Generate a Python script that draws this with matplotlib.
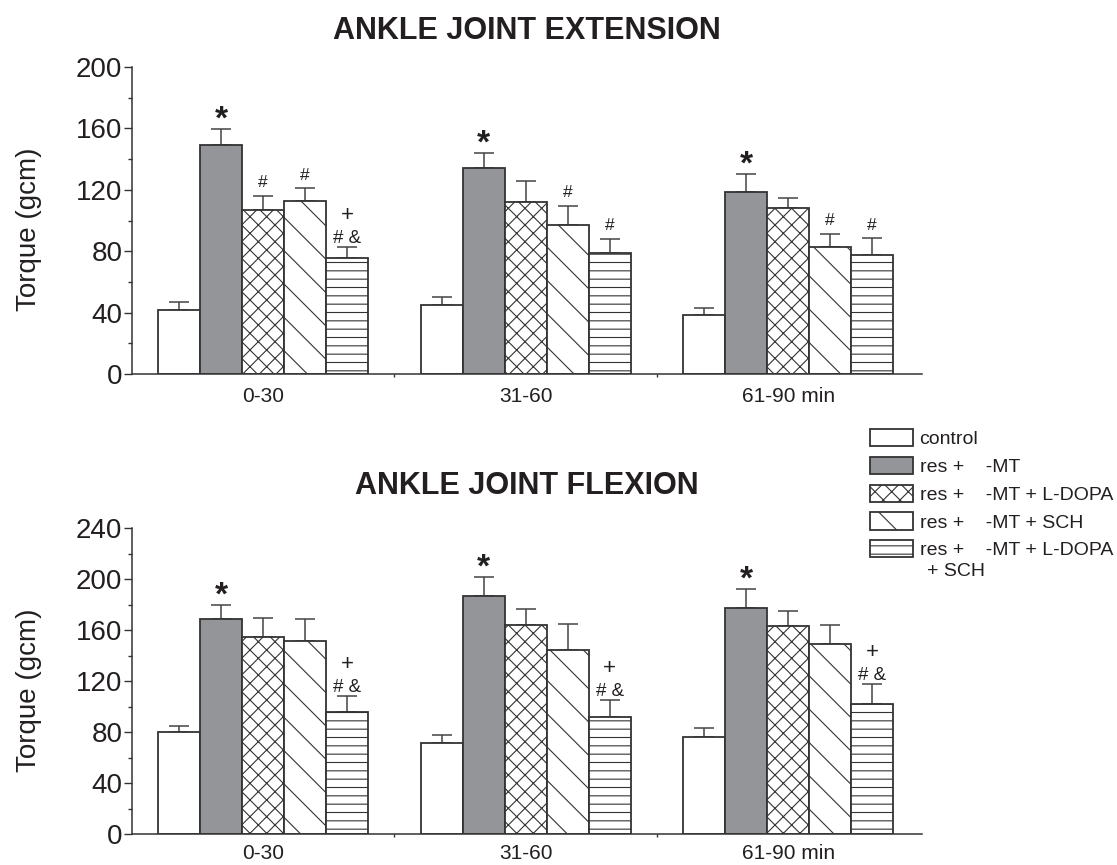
import numpy as np
import matplotlib
matplotlib.use("Agg")
import matplotlib.pyplot as plt
from matplotlib.patches import Patch
from matplotlib.ticker import MultipleLocator

plt.rcParams['font.family'] = ['Liberation Sans', 'DejaVu Sans']
plt.rcParams['hatch.linewidth'] = 0.8

# ---------------- data ----------------
groups = ["0-30", "31-60", "61-90 min"]
series = ["control", "res +    -MT", "res +    -MT + L-DOPA",
          "res +    -MT + SCH", "res +    -MT + L-DOPA"]
legend_extra = "+ SCH"

ext_title = "ANKLE JOINT EXTENSION"
ext_mean = [
    [42.0, 45.0, 38.4],     # control
    [149.0, 134.0, 118.6],  # res + MT
    [106.6, 111.8, 108.0],  # + L-DOPA
    [112.9, 96.9, 83.0],    # + SCH
    [75.3, 78.6, 77.5],     # + L-DOPA + SCH
]
ext_sem = [
    [4.7, 5.0, 4.5],
    [10.8, 10.0, 12.0],
    [9.4, 14.2, 6.4],
    [8.1, 12.8, 8.4],
    [7.7, 9.4, 10.9],
]
ext_marks = [
    ["", "", ""],
    ["*", "*", "*"],
    ["#", "", ""],
    ["#", "#", "#"],
    ["+\n# &", "#", "#"],
]

flex_title = "ANKLE JOINT FLEXION"
flex_mean = [
    [80.2, 71.6, 75.8],
    [169.0, 187.0, 177.5],
    [154.8, 164.0, 163.0],
    [151.6, 144.0, 149.0],
    [95.4, 91.5, 102.0],
]
flex_sem = [
    [4.8, 6.0, 7.6],
    [10.6, 14.6, 14.9],
    [14.9, 12.7, 12.0],
    [17.4, 20.4, 15.0],
    [13.1, 13.5, 16.0],
]
flex_marks = [
    ["", "", ""],
    ["*", "*", "*"],
    ["", "", ""],
    ["", "", ""],
    ["+\n# &", "+\n# &", "+\n# &"],
]

# ---------------- styles ----------------
ink = '#231f20'
edge = '#333333'
facecolors = ['white', '#939598', 'white', 'white', 'white']
hatches = [None, None, 'xx', '\\', '--']

W, H = 1117, 865
fig = plt.figure(figsize=(W / 100, H / 100), dpi=100)

ax_top = fig.add_axes([132 / W, (H - 374) / H, (922 - 132) / W, 307 / H])
ax_bot = fig.add_axes([132 / W, (H - 834) / H, (922 - 132) / W, 306 / H])

bw = 0.16
x = np.arange(len(groups))


def draw(ax, means, sems, marks, ymax, xpad):
    for i in range(len(series)):
        xs = x + (i - 2) * bw
        ax.bar(xs, means[i], width=bw, color=facecolors[i], edgecolor=edge,
               linewidth=1.3, hatch=hatches[i], zorder=2)
        ax.errorbar(xs, means[i], yerr=[np.zeros(len(xs)), sems[i]], fmt='none',
                    ecolor='#444444', elinewidth=1.1, capsize=7, capthick=1.1,
                    zorder=1)
        for j in range(len(groups)):
            m = marks[i][j]
            if not m:
                continue
            top = means[i][j] + sems[i][j]
            if m == "*":
                ax.annotate(m, (xs[j], top), xytext=(0, -5), textcoords='offset points',
                            ha='center', va='bottom', fontsize=24, color=ink,
                            fontweight='bold')
            elif m == "#":
                ax.annotate(m, (xs[j], top), xytext=(0, 4), textcoords='offset points',
                            ha='center', va='bottom', fontsize=12.5, color=ink)
            else:
                l1, l2 = m.split("\n")
                ax.annotate(l2, (xs[j], top), xytext=(0, 0), textcoords='offset points',
                            ha='center', va='bottom', fontsize=13.5, color=ink)
                ax.annotate(l1, (xs[j], top), xytext=(0, 15), textcoords='offset points',
                            ha='center', va='bottom', fontsize=16, color=ink)

    ax.set_xlim(-0.5, 2.51)
    ax.set_ylim(0, ymax)
    for s in ['top', 'right']:
        ax.spines[s].set_visible(False)
    for s in ['left', 'bottom']:
        ax.spines[s].set_color(edge)
        ax.spines[s].set_linewidth(1.1)
    ax.yaxis.set_major_locator(MultipleLocator(40))
    ax.yaxis.set_minor_locator(MultipleLocator(20))
    ax.tick_params(axis='y', which='major', length=6, width=1.0, color=edge,
                   labelsize=20, labelcolor=ink, pad=1)
    ax.tick_params(axis='y', which='minor', length=3, width=1.0, color=edge)
    ax.set_xticks(x)
    ax.set_xticklabels(groups)
    ax.set_xticks([0.5, 1.5], minor=True)
    ax.tick_params(axis='x', which='major', length=0, labelsize=15, labelcolor=ink, pad=xpad)
    ax.tick_params(axis='x', which='minor', length=2.5, width=1.0, color=edge)
    ax.set_ylabel("Torque (gcm)", fontsize=20, color=ink)
    ax.yaxis.set_label_coords(-0.114, 0.47)


draw(ax_top, ext_mean, ext_sem, ext_marks, 200, 9)
draw(ax_bot, flex_mean, flex_sem, flex_marks, 240, 7)

fig.text(527 / W, 1 - 31 / H, ext_title, ha='center', va='center', fontsize=22,
         fontweight='bold', color=ink)
fig.text(527 / W, 1 - 486 / H, flex_title, ha='center', va='center', fontsize=22,
         fontweight='bold', color=ink)

handles = [Patch(facecolor=facecolors[i], edgecolor=edge, hatch=hatches[i], linewidth=1.3)
           for i in range(len(series))]
leg = fig.legend(handles, series, loc='upper left',
                 bbox_to_anchor=(870 / W, 1 - 429 / H), bbox_transform=fig.transFigure,
                 frameon=False, borderpad=0, borderaxespad=0, fontsize=14,
                 handlelength=2.2, handleheight=0.98, handletextpad=0.35,
                 labelspacing=0.44)
for t in leg.get_texts():
    t.set_color(ink)
fig.text(927 / W, 1 - 572 / H, legend_extra, ha='left', va='center', fontsize=14, color=ink)

fig.savefig("out.png", dpi=100, facecolor='white')
